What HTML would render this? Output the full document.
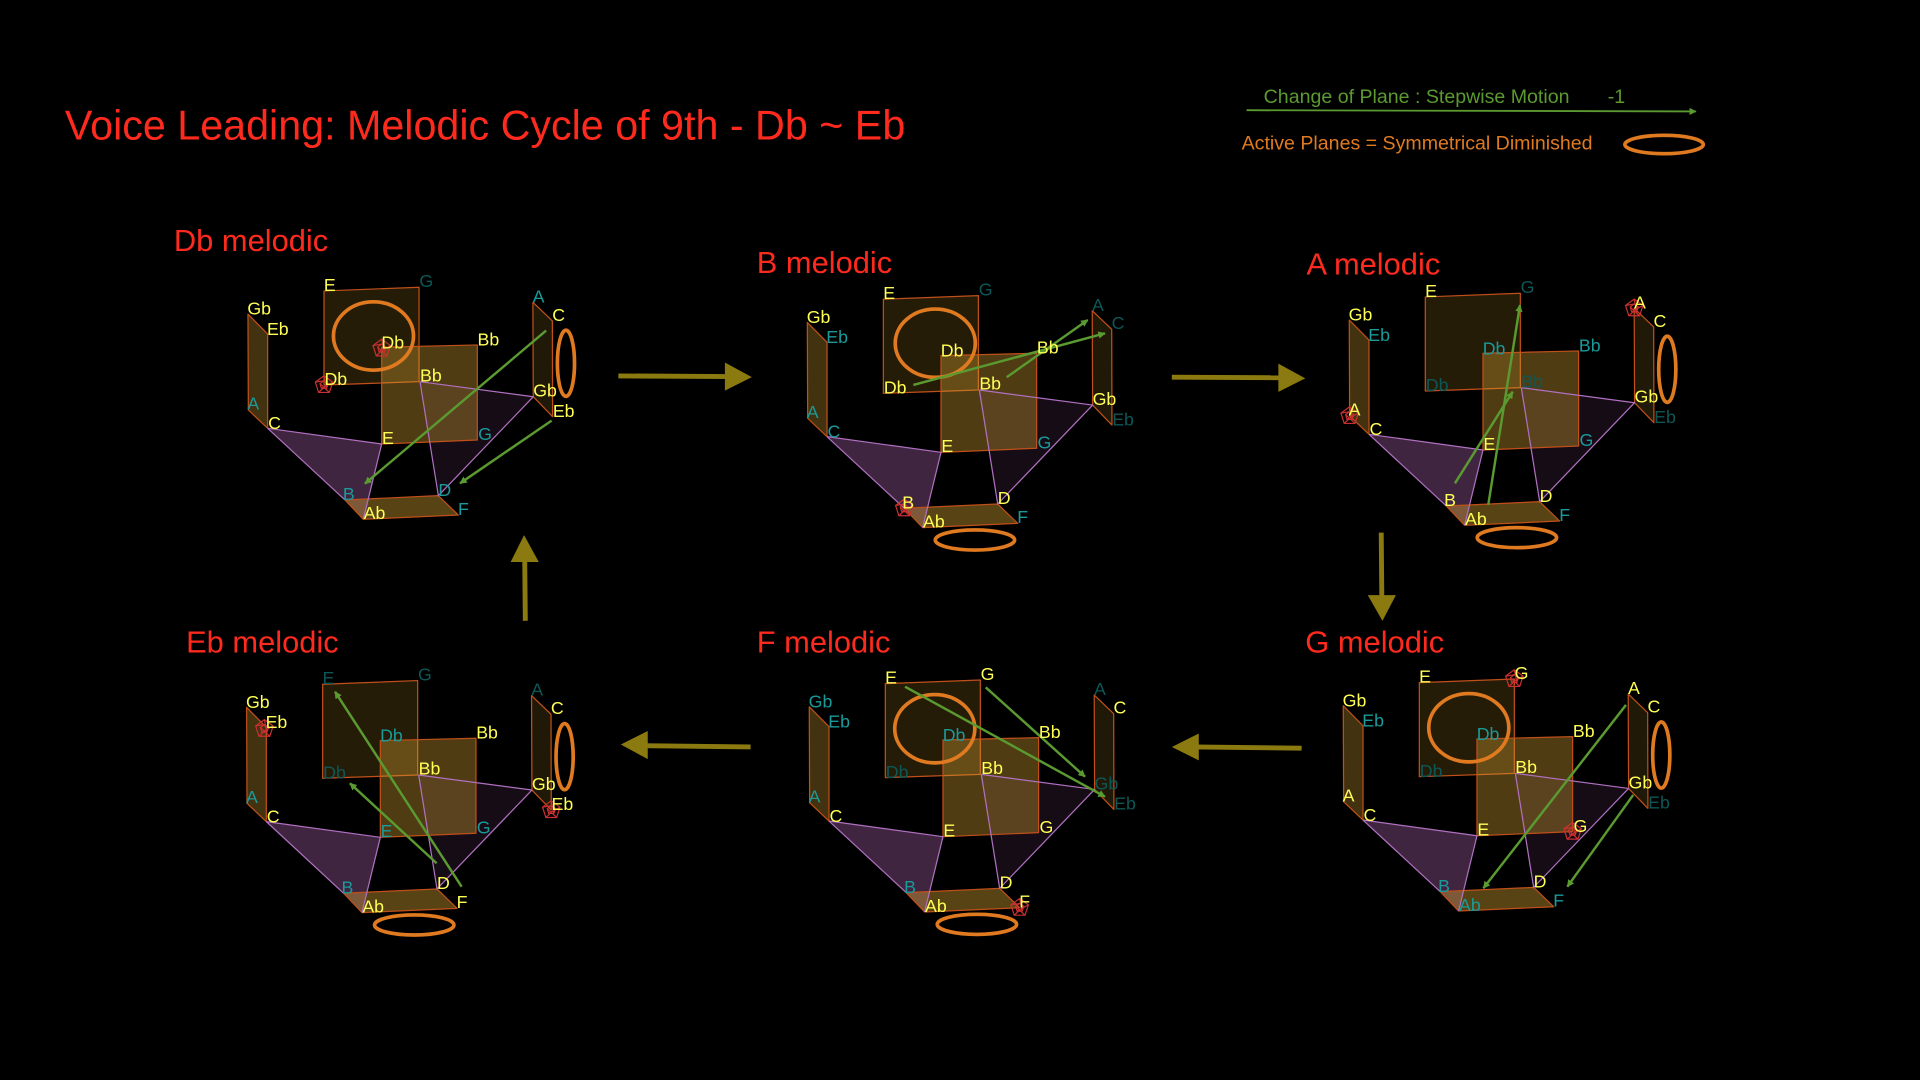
<!DOCTYPE html>
<html><head><meta charset="utf-8"><style>
html,body{margin:0;padding:0;background:#000;}
svg{display:block;}
text{font-family:"Liberation Sans",sans-serif;}
.y{fill:#ffff55;font-size:14.5px;}
.t{fill:#1a9a9a;font-size:14.5px;}
.d{fill:#0d5757;font-size:14.5px;}
.ttl{fill:#ff2a1e;font-size:25.2px;}
.el{fill:none;stroke:#e07a20;stroke-width:3;}
.ga{stroke:#5a9a30;stroke-width:2;marker-end:url(#gh);}
</style></head><body>
<svg width="1920" height="1080" viewBox="0 0 1568 882" xmlns="http://www.w3.org/2000/svg">
<defs>
<marker id="gh" viewBox="0 0 10 10" refX="9" refY="5" markerWidth="6" markerHeight="6" orient="auto" markerUnits="userSpaceOnUse">
<path d="M0,0 L10,5 L0,10 z" fill="#5a9a30"/></marker>
<marker id="gh2" viewBox="0 0 10 10" refX="9" refY="5" markerWidth="8" markerHeight="8" orient="auto" markerUnits="userSpaceOnUse">
<path d="M0,0 L10,5 L0,10 z" fill="#5a9a30"/></marker>
<g id="pent" fill="none" stroke="#c83030" stroke-width="1">
<polygon points="0,-7.5 7.1,-2.3 4.4,6.1 -4.4,6.1 -7.1,-2.3"/>
<polygon points="0,-3.5 3.3,-1.1 2.1,2.8 -2.1,2.8 -3.3,-1.1"/>
<path d="M0,-7.5 L2.1,2.8 M7.1,-2.3 L-2.1,2.8 M4.4,6.1 L-3.3,-1.1 M-4.4,6.1 L3.3,-1.1 M-7.1,-2.3 L0,-3.5"/>
</g>
<g id="geo" stroke-linejoin="round">
<polygon points="264.6,237.6 342.2,234.6 342.2,311.7 264.6,314.4" fill="rgb(219,167,50)" fill-opacity="0.17" stroke="#c0501a" stroke-width="1"/>
<polygon points="202.5,256.5 218.6,272.8 218.6,349.8 202.8,334.8" fill="rgb(219,167,50)" fill-opacity="0.3" stroke="#c0501a" stroke-width="1"/>
<polygon points="218.6,349.8 311.7,362.6 296.7,424.1 281.7,408.3" fill="#3f2540"/>
<polygon points="343,311.7 435.5,324 358,404.8" fill="#150c16"/>
<polygon points="311.7,283.6 389.8,281.7 389.8,359.3 311.7,362.6" fill="rgb(219,167,50)" fill-opacity="0.36" stroke="#c0501a" stroke-width="1"/>
<polygon points="435.2,246.9 451.1,262.1 451.3,340.3 435.5,324" fill="rgb(219,167,50)" fill-opacity="0.15" stroke="#c0501a" stroke-width="1"/>
<polygon points="281.7,408.3 358,404.8 374.3,420.6 296.7,424.1" fill="rgb(219,167,50)" fill-opacity="0.4" stroke="#c0501a" stroke-width="1"/>
<g stroke="#b070c0" stroke-width="1" fill="none">
<path d="M218.6,349.8 L311.7,362.6 L296.7,424.1 M218.6,349.8 L281.7,408.3 M343,311.7 L358,404.8 L435.5,324 L343,311.7"/>
</g>
</g>
</defs>

<text x="53" y="114" fill="#ff2a1e" font-size="33.7" style="font-family:'Liberation Sans',sans-serif">Voice Leading: Melodic Cycle of 9th - Db ~ Eb</text>

<text x="1032" y="84" fill="#5a9a30" font-size="16">Change of Plane : Stepwise Motion</text>
<text x="1313" y="84" fill="#5a9a30" font-size="16">-1</text>
<line x1="1018" y1="90" x2="1385" y2="91" stroke="#5a9a30" stroke-width="1.5" marker-end="url(#gh)"/>
<text x="1014" y="122" fill="#e07a20" font-size="16">Active Planes = Symmetrical Diminished</text>
<ellipse cx="1359" cy="118" rx="32" ry="7.5" class="el"/>

<text x="142" y="205" class="ttl">Db melodic</text>
<text x="618" y="223" class="ttl">B melodic</text>
<text x="1067" y="224" class="ttl">A melodic</text>
<text x="152" y="533" class="ttl">Eb melodic</text>
<text x="618" y="533" class="ttl">F melodic</text>
<text x="1066" y="533" class="ttl">G melodic</text>

<g fill="#8a7a10" stroke="#8a7a10">
<line x1="505" y1="307" x2="596" y2="307.5" stroke-width="4"/><polygon points="592,296 614,308 592,319" stroke="none"/>
<line x1="957" y1="308" x2="1048" y2="308.5" stroke-width="4"/><polygon points="1044,297 1066,309 1044,320" stroke="none"/>
<line x1="1128" y1="435" x2="1128.5" y2="490" stroke-width="4"/><polygon points="1117,486 1129,507 1140,486" stroke="none"/>
<line x1="1063" y1="611" x2="975" y2="610" stroke-width="4"/><polygon points="979,599 957,610 979,621" stroke="none"/>
<line x1="613" y1="610" x2="525" y2="609" stroke-width="4"/><polygon points="529,597 507,608 529,620" stroke="none"/>
<line x1="429" y1="507" x2="428.5" y2="455" stroke-width="4"/><polygon points="417,459 428,437 440,459" stroke="none"/>
</g>

<g transform="translate(0,0)">
<use href="#geo"/>
<ellipse cx="305" cy="274.4" rx="32.7" ry="27.9" class="el"/>
<ellipse cx="462.2" cy="296.7" rx="7" ry="27" class="el"/>
<use href="#pent" x="311.7" y="284.5"/><use href="#pent" x="264.6" y="314.4"/>
<line x1="446" y1="270" x2="298" y2="395" class="ga" marker-end="url(#gh2)"/>
<line x1="450.5" y1="343.5" x2="375.7" y2="394.7" class="ga" marker-end="url(#gh2)"/>
<text x="202" y="257" class="y">Gb</text><text x="218" y="273.5" class="y">Eb</text><text x="202" y="334.5" class="t">A</text><text x="219" y="350.5" class="y">C</text>
<text x="264.5" y="237.5" class="y">E</text><text x="342.5" y="234.5" class="d">G</text><text x="265" y="314.5" class="y">Db</text><text x="343" y="311.5" class="y">Bb</text>
<text x="311.5" y="284.5" class="y">Db</text><text x="390" y="282" class="y">Bb</text><text x="312" y="362.5" class="y">E</text><text x="390.5" y="359.5" class="t">G</text>
<text x="435" y="247" class="t">A</text><text x="451" y="262" class="y">C</text><text x="435.5" y="324" class="y">Gb</text><text x="451.5" y="340.5" class="y">Eb</text>
<text x="280" y="408.5" class="t">B</text><text x="297" y="424" class="y">Ab</text><text x="358" y="405" class="t">D</text><text x="374" y="420.5" class="t">F</text>
</g>

<g transform="translate(456.8,6.8)">
<use href="#geo"/>
<ellipse cx="307" cy="273.5" rx="32.7" ry="27.9" class="el"/>
<ellipse cx="339.4" cy="434.2" rx="32.4" ry="8.2" class="el"/>
<use href="#pent" x="281.7" y="408.3"/>
<line x1="289.1" y1="307.6" x2="445.6" y2="265.4" class="ga" marker-end="url(#gh2)"/>
<line x1="365.3" y1="301.3" x2="431.5" y2="254.5" class="ga" marker-end="url(#gh2)"/>
<text x="202" y="257" class="y">Gb</text><text x="218" y="273.5" class="t">Eb</text><text x="202" y="334.5" class="t">A</text><text x="219" y="350.5" class="t">C</text>
<text x="264.5" y="237.5" class="y">E</text><text x="342.5" y="234.5" class="d">G</text><text x="265" y="314.5" class="y">Db</text><text x="343" y="311.5" class="y">Bb</text>
<text x="311.5" y="284.5" class="y">Db</text><text x="390" y="282" class="y">Bb</text><text x="312" y="362.5" class="y">E</text><text x="390.5" y="359.5" class="t">G</text>
<text x="435" y="247" class="d">A</text><text x="451" y="262" class="d">C</text><text x="435.5" y="324" class="y">Gb</text><text x="451.5" y="340.5" class="d">Eb</text>
<text x="280" y="408.5" class="y">B</text><text x="297" y="424" class="y">Ab</text><text x="358" y="405" class="y">D</text><text x="374" y="420.5" class="t">F</text>
</g>

<g transform="translate(899.4,4.9)">
<use href="#geo"/>
<ellipse cx="462.2" cy="296.7" rx="7" ry="27" class="el"/>
<ellipse cx="339.4" cy="434.2" rx="32.4" ry="8.2" class="el"/>
<use href="#pent" x="202.8" y="334.8"/><use href="#pent" x="435.2" y="246.9"/>
<line x1="288.8" y1="389.8" x2="336" y2="315" class="ga" marker-end="url(#gh2)"/>
<line x1="316" y1="407.5" x2="341.9" y2="244.2" class="ga" marker-end="url(#gh2)"/>
<text x="202" y="257" class="y">Gb</text><text x="218" y="273.5" class="t">Eb</text><text x="202" y="334.5" class="y">A</text><text x="219" y="350.5" class="y">C</text>
<text x="264.5" y="237.5" class="y">E</text><text x="342.5" y="234.5" class="d">G</text><text x="265" y="314.5" class="d">Db</text><text x="343" y="311.5" class="d">Bb</text>
<text x="311.5" y="284.5" class="t">Db</text><text x="390" y="282" class="t">Bb</text><text x="312" y="362.5" class="y">E</text><text x="390.5" y="359.5" class="t">G</text>
<text x="435" y="247" class="y">A</text><text x="451" y="262" class="y">C</text><text x="435.5" y="324" class="y">Gb</text><text x="451.5" y="340.5" class="d">Eb</text>
<text x="280" y="408.5" class="y">B</text><text x="297" y="424" class="y">Ab</text><text x="358" y="405" class="y">D</text><text x="374" y="420.5" class="t">F</text>
</g>

<g transform="translate(-1.1,321.2)">
<use href="#geo"/>
<ellipse cx="462.2" cy="296.7" rx="7" ry="27" class="el"/>
<ellipse cx="339.4" cy="434.2" rx="32.4" ry="8.2" class="el"/>
<use href="#pent" x="217" y="274"/><use href="#pent" x="451.3" y="340.3"/>
<line x1="378.1" y1="402.9" x2="274.7" y2="243.7" class="ga" marker-end="url(#gh2)"/>
<line x1="357.7" y1="383.8" x2="286.9" y2="318.5" class="ga" marker-end="url(#gh2)"/>
<text x="202" y="257" class="y">Gb</text><text x="218" y="273.5" class="y">Eb</text><text x="202" y="334.5" class="t">A</text><text x="219" y="350.5" class="y">C</text>
<text x="264.5" y="237.5" class="d">E</text><text x="342.5" y="234.5" class="d">G</text><text x="265" y="314.5" class="d">Db</text><text x="343" y="311.5" class="y">Bb</text>
<text x="311.5" y="284.5" class="t">Db</text><text x="390" y="282" class="y">Bb</text><text x="312" y="362.5" class="t">E</text><text x="390.5" y="359.5" class="t">G</text>
<text x="435" y="247" class="d">A</text><text x="451" y="262" class="y">C</text><text x="435.5" y="324" class="y">Gb</text><text x="451.5" y="340.5" class="y">Eb</text>
<text x="280" y="408.5" class="t">B</text><text x="297" y="424" class="y">Ab</text><text x="358" y="405" class="y">D</text><text x="374" y="420.5" class="y">F</text>
</g>

<g transform="translate(458.4,320.7)">
<use href="#geo"/>
<ellipse cx="305" cy="274.4" rx="32.7" ry="27.9" class="el"/>
<ellipse cx="339.4" cy="434.2" rx="32.4" ry="8.2" class="el"/>
<use href="#pent" x="374.3" y="420.6"/>
<line x1="280.7" y1="240.1" x2="444" y2="329.9" class="ga" marker-end="url(#gh2)"/>
<line x1="346.6" y1="240.6" x2="427.7" y2="313.6" class="ga" marker-end="url(#gh2)"/>
<text x="202" y="257" class="t">Gb</text><text x="218" y="273.5" class="t">Eb</text><text x="202" y="334.5" class="t">A</text><text x="219" y="350.5" class="y">C</text>
<text x="264.5" y="237.5" class="y">E</text><text x="342.5" y="234.5" class="y">G</text><text x="265" y="314.5" class="d">Db</text><text x="343" y="311.5" class="y">Bb</text>
<text x="311.5" y="284.5" class="t">Db</text><text x="390" y="282" class="y">Bb</text><text x="312" y="362.5" class="y">E</text><text x="390.5" y="359.5" class="y">G</text>
<text x="435" y="247" class="d">A</text><text x="451" y="262" class="y">C</text><text x="435.5" y="324" class="d">Gb</text><text x="451.5" y="340.5" class="d">Eb</text>
<text x="280" y="408.5" class="t">B</text><text x="297" y="424" class="y">Ab</text><text x="358" y="405" class="y">D</text><text x="374" y="420.5" class="y">F</text>
</g>

<g transform="translate(894.5,319.9)">
<use href="#geo"/>
<ellipse cx="305" cy="274.4" rx="32.7" ry="27.9" class="el"/>
<ellipse cx="462.2" cy="296.7" rx="7" ry="27" class="el"/>
<use href="#pent" x="342.2" y="234.6"/><use href="#pent" x="389.8" y="359.3"/>
<line x1="433.4" y1="255.8" x2="316.9" y2="405.5" class="ga" marker-end="url(#gh2)"/>
<line x1="439.3" y1="329.3" x2="385.5" y2="404.2" class="ga" marker-end="url(#gh2)"/>
<text x="202" y="257" class="y">Gb</text><text x="218" y="273.5" class="t">Eb</text><text x="202" y="334.5" class="y">A</text><text x="219" y="350.5" class="y">C</text>
<text x="264.5" y="237.5" class="y">E</text><text x="342.5" y="234.5" class="y">G</text><text x="265" y="314.5" class="d">Db</text><text x="343" y="311.5" class="y">Bb</text>
<text x="311.5" y="284.5" class="t">Db</text><text x="390" y="282" class="y">Bb</text><text x="312" y="362.5" class="y">E</text><text x="390.5" y="359.5" class="y">G</text>
<text x="435" y="247" class="y">A</text><text x="451" y="262" class="y">C</text><text x="435.5" y="324" class="y">Gb</text><text x="451.5" y="340.5" class="d">Eb</text>
<text x="280" y="408.5" class="t">B</text><text x="297" y="424" class="t">Ab</text><text x="358" y="405" class="y">D</text><text x="374" y="420.5" class="t">F</text>
</g>
</svg>
</body></html>
